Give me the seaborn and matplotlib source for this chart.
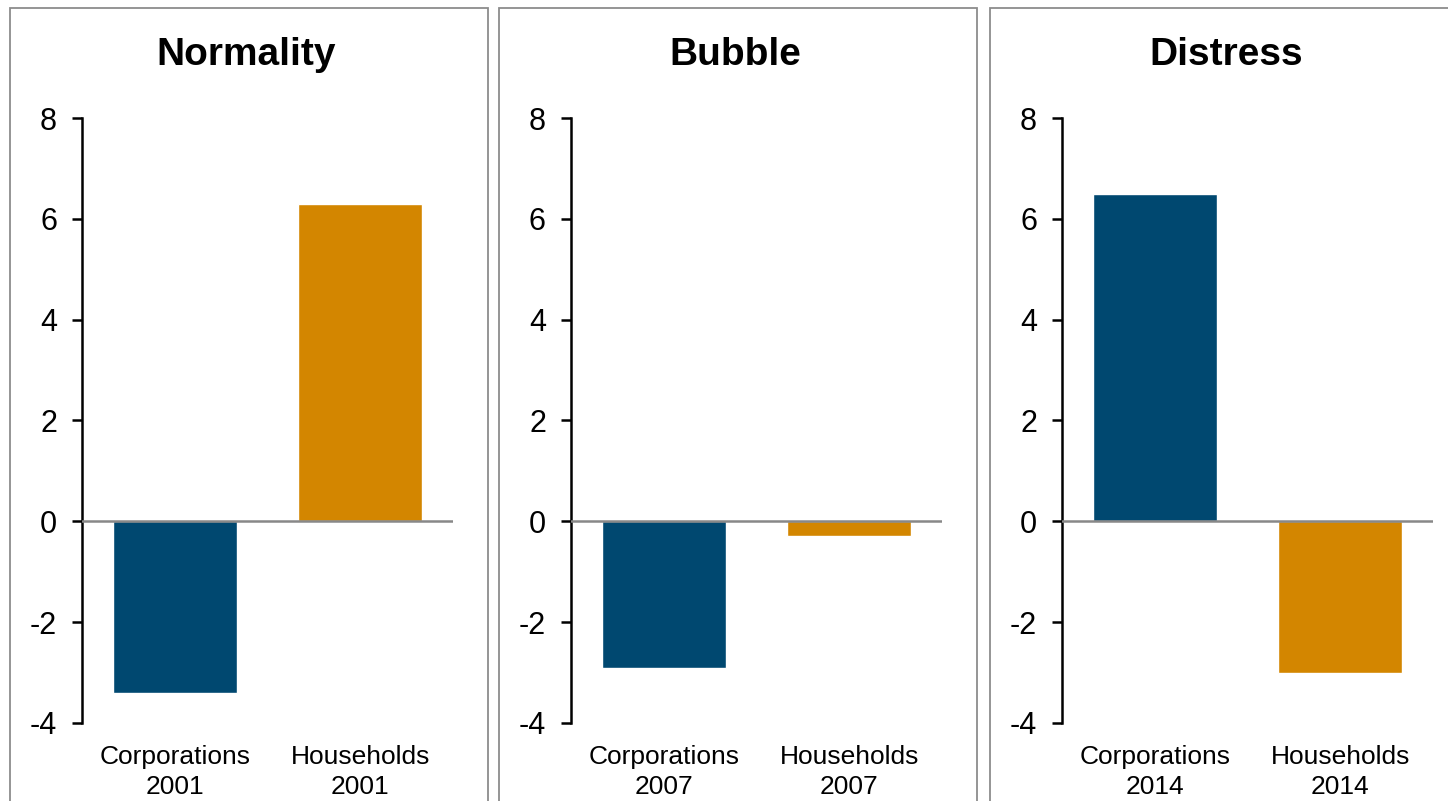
import pandas as pd
import numpy as np
import matplotlib.pyplot as plt
import seaborn as sns
from matplotlib.patches import Rectangle

sns.set_style("white")
plt.rcParams['font.family'] = ['Liberation Sans', 'DejaVu Sans']
plt.rcParams['text.color'] = 'black'
plt.rcParams['xtick.color'] = 'black'
plt.rcParams['ytick.color'] = 'black'
plt.rcParams['axes.unicode_minus'] = False

# data
panels = ['Normality', 'Bubble', 'Distress']
years = ['2001', '2007', '2014']
sectors = ['Corporations', 'Households']
corporations = [-3.4, -2.9, 6.5]
households = [6.3, -0.3, -3.0]
colors = {'Corporations': '#004870', 'Households': '#D38600'}

rows = []
for p, yr, c, h in zip(panels, years, corporations, households):
    rows.append({'panel': p, 'sector': 'Corporations', 'label': 'Corporations\n' + yr, 'value': c})
    rows.append({'panel': p, 'sector': 'Households', 'label': 'Households\n' + yr, 'value': h})
data = pd.DataFrame(rows)

W, H = 1448, 801
fig = plt.figure(figsize=(W / 100, H / 100), dpi=100)

panel_left = [10, 499, 990]
panel_right = [488, 977, 1468]
axis_left = [82, 571, 1062]
axis_w = 371
ax_top, ax_bot = 118, 723

for i, p in enumerate(panels):
    # panel frame, open at the bottom edge of the image
    fig.patches.append(Rectangle((panel_left[i] / W, -0.05), (panel_right[i] - panel_left[i]) / W,
                                 1.05 - 8 / H, transform=fig.transFigure, fill=False,
                                 edgecolor='#8c8c8c', linewidth=1.3, zorder=0))
    fig.text((panel_left[i] + panel_right[i]) / 2 / W - 3 / W, 1 - 55 / H, p,
             ha='center', va='center', fontsize=28, fontweight='bold')

    ax = fig.add_axes([axis_left[i] / W, 1 - ax_bot / H, axis_w / W, (ax_bot - ax_top) / H])
    d = data[data['panel'] == p]
    sns.barplot(data=d, x='label', y='value', hue='sector', palette=colors, width=0.67,
                dodge=False, legend=False, ax=ax, saturation=1)
    ax.axhline(0, color='#888888', linewidth=1.8, zorder=3)
    ax.set_xlim(-0.5, 1.5)
    ax.set_ylim(-4, 8)
    ax.set_yticks(np.arange(-4, 9, 2))
    ax.set_xlabel('')
    ax.set_ylabel('')
    for s in ['top', 'right', 'bottom']:
        ax.spines[s].set_visible(False)
    ax.spines['left'].set_color('black')
    ax.spines['left'].set_linewidth(1.8)
    ax.tick_params(axis='y', which='both', left=True, length=7, width=1.8, pad=11, labelsize=22)
    ax.tick_params(axis='x', bottom=False, pad=12, labelsize=19)
    for t in ax.get_xticklabels():
        t.set_linespacing(1.35)
    ax.patch.set_alpha(0)

plt.savefig("out.png", dpi=100)
plt.close()
